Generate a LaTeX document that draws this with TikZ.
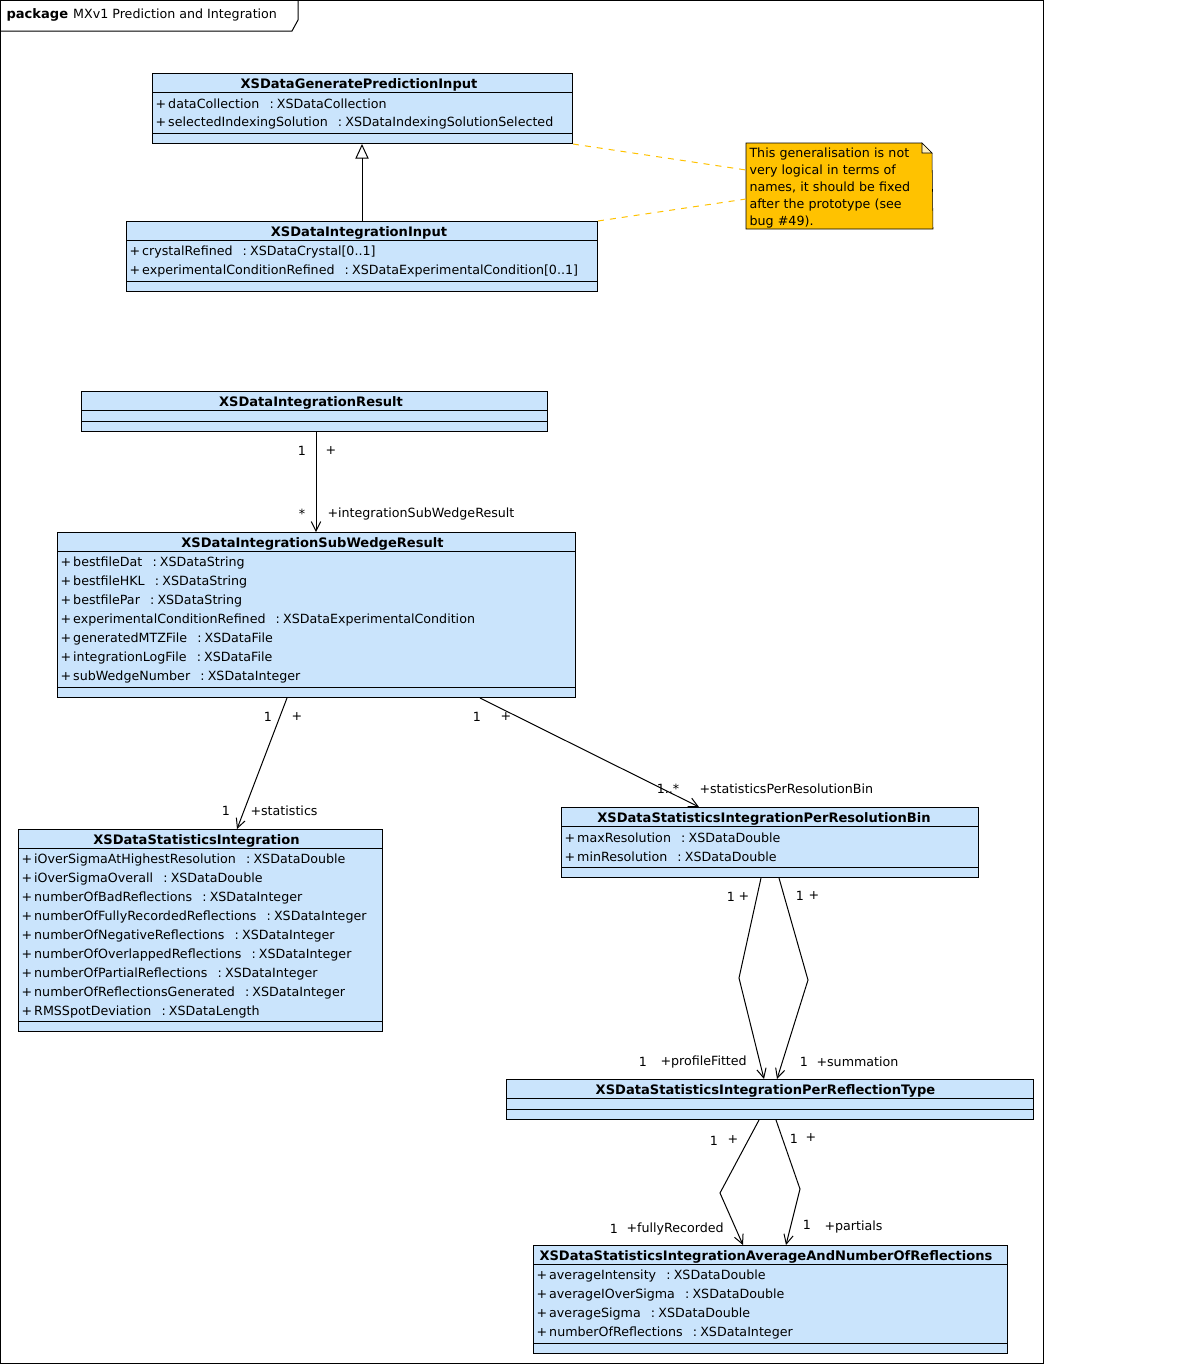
\documentclass[tikz,border=0pt]{standalone}
\usepackage{fontspec}
\setmainfont{DejaVu Sans}
\usetikzlibrary{arrows.meta,backgrounds}
\definecolor{classblue}{RGB}{202,228,252}
\definecolor{noteorange}{RGB}{255,194,0}
\tikzset{
  classbox/.style={draw, fill=classblue, anchor=north west, inner sep=0pt},
  classhead/.style={font=\fontsize{9.8}{11}\bfseries, inner sep=0pt},
  attr/.style={anchor=west, inner sep=0pt},
  lbl/.style={inner sep=0pt},
  role/.style={anchor=west, inner sep=0pt},
  assoc/.style={-{Straight Barb[length=7pt,width=7pt]}},
  generalize/.style={-{Triangle[open,length=11pt,width=10pt]}},
  notelink/.style={draw=noteorange, dash pattern=on 4.5pt off 4.5pt}
}
\begin{document}
\begin{tikzpicture}[x=0.75pt, y=-0.75pt, line width=0.75pt, font=\fontsize{9.5}{11}\selectfont]
\useasboundingbox (0,0) rectangle (1199,1365);
% package frame
\draw (0.5,0.5) rectangle (1043,1363);
\draw (0.5,31) -- (292,31) -- (298,20) -- (298,0.5);
\node[anchor=west, inner sep=0pt] (pkg) at (6,15) {{\fontsize{9.8}{11}\bfseries package}\hspace{0.4em}MXv1 Prediction and Integration};
% classes
\node[classbox, minimum width=315pt, minimum height=52.5pt] (gpi) at (152,73) {};
\node[classbox, minimum width=353.25pt, minimum height=52.5pt] (ii) at (126,221) {};
\node[classbox, minimum width=349.5pt, minimum height=30pt] (ir) at (81,391) {};
\node[classbox, minimum width=388.5pt, minimum height=123.75pt] (sub) at (57,532) {};
\node[classbox, minimum width=273pt, minimum height=151.5pt] (st) at (18,829) {};
\node[classbox, minimum width=312.75pt, minimum height=52.5pt] (prb) at (561,807) {};
\node[classbox, minimum width=395.25pt, minimum height=30pt] (prt) at (506,1079) {};
\node[classbox, minimum width=355.5pt, minimum height=81pt] (avg) at (533,1245) {};
\foreach \c/\w in {gpi/420, ii/471, ir/466, sub/518, st/364, prb/417, prt/527, avg/474} {
  \draw (\c.north west) ++(0,19) -- ++(\w,0);
  \draw (\c.south west) ++(0,-10.5) -- ++(\w,0);
}
\node[classhead] (gpi-h) at (359,84.5) {XSDataGeneratePredictionInput};
\node[classhead] (ii-h) at (359,232.5) {XSDataIntegrationInput};
\node[classhead] (ir-h) at (311,402.5) {XSDataIntegrationResult};
\node[classhead] (sub-h) at (312.5,543.5) {XSDataIntegrationSubWedgeResult};
\node[classhead] (st-h) at (196.5,840.5) {XSDataStatisticsIntegration};
\node[classhead] (prb-h) at (764,818.5) {XSDataStatisticsIntegrationPerResolutionBin};
\node[classhead] (prt-h) at (765.5,1090.5) {XSDataStatisticsIntegrationPerReflectionType};
\node[classhead, anchor=west] (avg-h) at (539,1256.5) {XSDataStatisticsIntegrationAverageAndNumberOfReflections};
% attributes
\foreach \n/\ty [count=\i] in {dataCollection/XSDataCollection, selectedIndexingSolution/XSDataIndexingSolutionSelected}
  \node[attr] (gpi-\i) at (155,85+19*\i) {+\,\n\hspace{0.8em}:\hspace{0.25em}\ty};
\foreach \n/\ty [count=\i] in {crystalRefined/{XSDataCrystal[0..1]}, experimentalConditionRefined/{XSDataExperimentalCondition[0..1]}}
  \node[attr] (ii-\i) at (129,233+19*\i) {+\,\n\hspace{0.8em}:\hspace{0.25em}\ty};
\foreach \n/\ty [count=\i] in {bestfileDat/XSDataString, bestfileHKL/XSDataString, bestfilePar/XSDataString,
    experimentalConditionRefined/XSDataExperimentalCondition, generatedMTZFile/XSDataFile,
    integrationLogFile/XSDataFile, subWedgeNumber/XSDataInteger}
  \node[attr] (sub-\i) at (60,544+19*\i) {+\,\n\hspace{0.8em}:\hspace{0.25em}\ty};
\foreach \n/\ty [count=\i] in {iOverSigmaAtHighestResolution/XSDataDouble, iOverSigmaOverall/XSDataDouble,
    numberOfBadReflections/XSDataInteger, numberOfFullyRecordedReflections/XSDataInteger,
    numberOfNegativeReflections/XSDataInteger, numberOfOverlappedReflections/XSDataInteger,
    numberOfPartialReflections/XSDataInteger, numberOfReflectionsGenerated/XSDataInteger,
    RMSSpotDeviation/XSDataLength}
  \node[attr] (st-\i) at (21,841+19*\i) {+\,\n\hspace{0.8em}:\hspace{0.25em}\ty};
\foreach \n/\ty [count=\i] in {maxResolution/XSDataDouble, minResolution/XSDataDouble}
  \node[attr] (prb-\i) at (564,819+19*\i) {+\,\n\hspace{0.8em}:\hspace{0.25em}\ty};
\foreach \n/\ty [count=\i] in {averageIntensity/XSDataDouble, averageIOverSigma/XSDataDouble,
    averageSigma/XSDataDouble, numberOfReflections/XSDataInteger}
  \node[attr] (avg-\i) at (536,1257+19*\i) {+\,\n\hspace{0.8em}:\hspace{0.25em}\ty};
% note
\node[anchor=north west, minimum width=139.5pt, minimum height=63.75pt, inner xsep=2.25pt, inner ysep=0pt,
  text width=135pt, align=left, font=\fontsize{9.5}{12.75}\selectfont] (note) at (746,143)
  {\rule{0pt}{10pt}This generalisation is not\\very logical in terms of\\names, it should be fixed\\after the prototype (see\\bug \#49).};
\begin{scope}[on background layer]
  \filldraw[fill=noteorange] (note.north west) -- ++(176,0) -- ++(10,10) -- (note.south east) -- (note.south west) -- cycle;
  \filldraw[fill=noteorange!25!white] (note.north west) ++(176,0) -- ++(10,10) -- ++(-10,0) -- cycle;
\end{scope}
\draw[notelink] (gpi.south east) -- (note.west |- 0,170);
\draw[notelink] (ii.north east) -- (note.west |- 0,199);
% connectors
\draw[generalize] (ii.north -| 362,0) -- (gpi.south -| 362,0);
\draw[assoc] (ir.south -| 316,0) -- (sub.north -| 316,0);
\draw[assoc] (sub.south -| 287,0) -- (st.north -| 237,0);
\draw[assoc] (sub.south -| 480,0) -- (prb.north -| 699,0);
\coordinate (b1) at (739,978);
\coordinate (b2) at (808,980);
\coordinate (b3) at (720,1193);
\coordinate (b4) at (800,1189);
\draw[assoc] (prb.south -| 761,0) -- (b1) -- (prt.north -| 764,0);
\draw[assoc] (prb.south -| 779,0) -- (b2) -- (prt.north -| 777,0);
\draw[assoc] (prt.south -| 759,0) -- (b3) -- (avg.north -| 743,0);
\draw[assoc] (prt.south -| 776,0) -- (b4) -- (avg.north -| 786,0);
% multiplicities and roles
\foreach \x/\y/\s [count=\k] in {302/451/1, 331/451/+, 302/514/*, 268/717/1, 297/717/+, 226/811/1,
    477/717/1, 506/717/+, 668/789/1..*, 731/897/1, 744/897/+, 800/896/1, 814/896/+,
    643/1062/1, 804/1062/1, 714/1141/1, 733/1140/+, 794/1139/1, 811/1138/+, 614/1229/1, 807/1225/1}
  \node[lbl] (m\k) at (\x,\y) {\s};
\foreach \x/\y/\s [count=\k] in {327/514/integrationSubWedgeResult, 250/811/statistics,
    699/789/statisticsPerResolutionBin, 660/1062/profileFitted, 816/1062/summation,
    626/1229/fullyRecorded, 824/1227/partials}
  \node[role] (r\k) at (\x,\y) {+\s};
\end{tikzpicture}
\end{document}
